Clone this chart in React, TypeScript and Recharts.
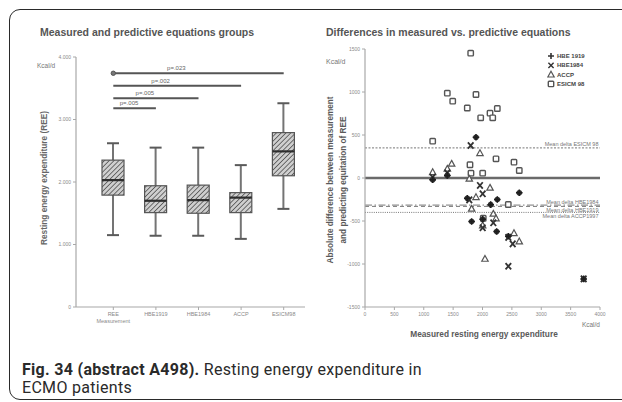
import {
  Bar,
  ComposedChart,
  Legend,
  ReferenceDot,
  ReferenceLine,
  Scatter,
  ScatterChart,
  XAxis,
  YAxis,
} from 'recharts';

// left panel: box plots per group (kcal/d)
const GROUPS = ['REE Measurement', 'HBE1919', 'HBE1984', 'ACCP', 'ESICM98'];
const WHISKER_LOW = [1150, 1140, 1140, 1090, 1570];
const QUARTILE_1 = [1790, 1510, 1500, 1510, 2100];
const MEDIAN = [2030, 1700, 1710, 1750, 2490];
const QUARTILE_3 = [2350, 1940, 1950, 1830, 2790];
const WHISKER_HIGH = [2620, 2550, 2550, 2270, 3260];
const REE_TICKS = [0, 1000, 2000, 3000, 4000];

// significance brackets, all starting at the measured group
const SIG_TARGETS = ['ESICM98', 'ACCP', 'HBE1984', 'HBE1919'];
const SIG_HEIGHTS = [3740, 3540, 3340, 3180];
const SIG_LABELS = ['p=.023', 'p=.002', 'p=.005', 'p=.005'];

// right panel: [measured REE, delta] per equation
const HBE1919_POINTS: [number, number][] = [
  [1152, -20], [1401, 30], [1889, 474], [1741, -235], [2252, -250], [2139, -310],
  [2626, -172], [1815, -506], [2241, -622], [2440, -677], [2003, -480], [3722, -1173],
];
const HBE1984_POINTS: [number, number][] = [
  [1152, 10], [1401, 60], [1799, 378], [1957, -87], [2003, -184], [1775, -254],
  [2184, -521], [2003, -579], [2514, -766], [2440, -690], [2440, -1026], [3722, -1173],
];
const ACCP_POINTS: [number, number][] = [
  [1152, 68], [1401, 107], [1475, 165], [1957, 289], [1775, -9], [2128, -114],
  [1889, -223], [1815, -358], [2184, -416], [2003, -552], [2536, -642], [2626, -738],
  [2042, -940], [2230, -470],
];
const ESICM_POINTS: [number, number][] = [
  [1799, 1451], [1401, 986], [1493, 893], [1889, 971], [1741, 814], [1969, 700],
  [2128, 754], [2252, 808], [2174, 700], [1152, 428], [2230, 223], [2536, 184],
  [2626, 87], [1787, 154], [1804, 56], [2003, 56], [2439, -308], [2013, -468],
];
const DELTA_TICKS = [-1500, -1000, -500, 0, 500, 1000, 1500];
const MEASURED_TICKS = [0, 500, 1000, 1500, 2000, 2500, 3000, 3500, 4000];
const MEAN_DELTA_NAMES = ['Mean delta ESICM 98', 'Mean delta HBE1984', 'Mean delta HBE1919', 'Mean delta ACCP1997'];
const MEAN_DELTA_VALUES = [350, -315, -330, -400];

const FONT = '"Liberation Sans", Arial, sans-serif';
const AXIS_GREY = '#a8a8a8';
const TEXT_GREY = '#8a8a8a';

const boxData = GROUPS.map((group, i) => ({
  group,
  range: [WHISKER_LOW[i], WHISKER_HIGH[i]],
  low: WHISKER_LOW[i],
  q1: QUARTILE_1[i],
  median: MEDIAN[i],
  q3: QUARTILE_3[i],
  high: WHISKER_HIGH[i],
}));

const toXY = (pts: [number, number][]) => pts.map(([x, y]) => ({ x, y }));

const BoxShape = (props: any) => {
  const { x, y, width, height, payload } = props;
  const { low, q1, median, q3, high } = payload;
  const top = Math.min(y, y + height);
  const h = Math.abs(height);
  const toY = (v: number) => top + ((high - v) / (high - low)) * h;
  const cx = x + width / 2;
  return (
    <g>
      <line x1={cx} x2={cx} y1={toY(high)} y2={toY(low)} stroke="#747474" strokeWidth={2} />
      <line x1={cx - 6} x2={cx + 6} y1={toY(high)} y2={toY(high)} stroke="#5a5a5a" strokeWidth={2} />
      <line x1={cx - 6} x2={cx + 6} y1={toY(low)} y2={toY(low)} stroke="#5a5a5a" strokeWidth={2} />
      <rect
        x={x}
        y={toY(q3)}
        width={width}
        height={toY(q1) - toY(q3)}
        fill="url(#reeHatch)"
        stroke="#555"
        strokeWidth={1.2}
      />
      <line x1={x} x2={x + width} y1={toY(median)} y2={toY(median)} stroke="#2e2e2e" strokeWidth={2.2} />
    </g>
  );
};

const GroupTick = ({ x, y, payload }: any) => {
  const lines = payload.value === 'REE Measurement' ? ['REE', 'Measurement'] : [payload.value];
  return (
    <text x={x} y={y + 4} textAnchor="middle" fontSize={5.5} fill={TEXT_GREY} fontFamily={FONT}>
      {lines.map((l, i) => (
        <tspan key={i} x={x} dy={i === 0 ? 0 : 7}>
          {l}
        </tspan>
      ))}
    </text>
  );
};

const PLabel = ({ viewBox, text }: any) => {
  if (!viewBox) return null;
  const w = viewBox.width ?? 0;
  return (
    <text x={viewBox.x + w * 0.37} y={viewBox.y - 3} textAnchor="middle" fontSize={6} fill="#666" fontFamily={FONT}>
      {text}
    </text>
  );
};

const LeftYTitle = ({ viewBox }: any) => {
  const cy = viewBox.y + viewBox.height / 2 - 4;
  const x = 45;
  return (
    <g fontFamily={FONT}>
      <text x={37} y={68} fontSize={6.5} fill="#777">
        Kcal/d
      </text>
      <text
        x={x}
        y={cy}
        transform={`rotate(-90 ${x} ${cy})`}
        textAnchor="middle"
        dominantBaseline="middle"
        fontSize={8.3}
        fontWeight="bold"
        fill="#666"
      >
        Resting energy expenditure (REE)
      </text>
    </g>
  );
};

const RightYTitle = ({ viewBox }: any) => {
  const cy = viewBox.y + viewBox.height / 2 + 2;
  return (
    <g fontFamily={FONT} fontWeight="bold" fontSize={8.2} fill="#5a5a5a">
      <text x={15} y={64} fontSize={7} fontWeight="normal" fill="#777">
        Kcal/d
      </text>
      <text x={20} y={cy} transform={`rotate(-90 20 ${cy})`} textAnchor="middle" dominantBaseline="middle">
        Absolute difference between measurement
      </text>
      <text x={33} y={cy} transform={`rotate(-90 33 ${cy})`} textAnchor="middle" dominantBaseline="middle">
        and predicting equitation of REE
      </text>
    </g>
  );
};

const RightXTitle = () => (
  <g fontFamily={FONT}>
    <text x={289} y={327} textAnchor="end" fontSize={6.5} fill="#777">
      Kcal/d
    </text>
    <text x={173} y={337} textAnchor="middle" fontSize={8.3} fontWeight="bold" fill="#5a5a5a">
      Measured resting energy expenditure
    </text>
  </g>
);

const PlusMark = ({ cx, cy }: any) => (
  <g>
    <circle cx={cx} cy={cy} r={2.8} fill="#2f2f2f" />
    <path d={`M${cx - 3.3},${cy}H${cx + 3.3}M${cx},${cy - 3.3}V${cy + 3.3}`} stroke="#1e1e1e" strokeWidth={1.5} />
  </g>
);

const CrossMark = ({ cx, cy }: any) => (
  <path
    d={`M${cx - 2.8},${cy - 3.2}L${cx + 2.8},${cy + 3.2}M${cx + 2.8},${cy - 3.2}L${cx - 2.8},${cy + 3.2}`}
    stroke="#333"
    strokeWidth={1.8}
  />
);

const TriangleMark = ({ cx, cy }: any) => (
  <path
    d={`M${cx},${cy - 3.4}L${cx + 3.2},${cy + 2.4}L${cx - 3.2},${cy + 2.4}Z`}
    fill="#fff"
    stroke="#555"
    strokeWidth={1.2}
  />
);

const SquareMark = ({ cx, cy }: any) => (
  <rect x={cx - 2.7} y={cy - 2.7} width={5.4} height={5.4} rx={0.8} fill="#fff" stroke="#555" strokeWidth={1.4} />
);

function CrossOrPlus(kind: 'plus' | 'cross') {
  return ({ cx, cy }: any) =>
    kind === 'plus' ? (
      <path d={`M${cx - 3},${cy}H${cx + 3}M${cx},${cy - 3}V${cy + 3}`} stroke="#333" strokeWidth={1.6} />
    ) : (
      <path d={`M${cx - 2.6},${cy - 2.6}L${cx + 2.6},${cy + 2.6}M${cx + 2.6},${cy - 2.6}L${cx - 2.6},${cy + 2.6}`} stroke="#333" strokeWidth={1.4} />
    );
}

const LEGEND_ITEMS = [
  { label: 'HBE 1919', Mark: CrossOrPlus('plus') },
  { label: 'HBE1984', Mark: CrossOrPlus('cross') },
  { label: 'ACCP', Mark: TriangleMark },
  { label: 'ESICM 98', Mark: SquareMark },
];

const EquationLegend = () => (
  <svg width={60} height={40} style={{ display: 'block' }}>
    {LEGEND_ITEMS.map(({ label, Mark }, i) => (
      <g key={label}>
        <Mark cx={4} cy={5 + i * 9.3} />
        <text x={10} y={7 + i * 9.3} fontSize={6} fontWeight="bold" fill="#444" fontFamily={FONT}>
          {label}
        </text>
      </g>
    ))}
  </svg>
);

const MEAN_LINE_STYLES = [
  { dash: '2 1.5', pos: 'insideBottomRight' },
  { dash: '7 2.5 1.5 2.5', pos: 'insideBottomRight' },
  { dash: '4 3', pos: 'insideTopRight' },
  { dash: '1 1.2', pos: 'insideTopRight' },
];

const captionLine = {
  position: 'absolute' as const,
  left: 22,
  fontFamily: 'Roboto, sans-serif',
  fontSize: 16,
  letterSpacing: '0.3px',
  lineHeight: '18px',
  height: 18,
  color: '#2a2a2a',
  whiteSpace: 'nowrap' as const,
};

export default function App() {
  return (
    <div
      style={{
        position: 'absolute',
        left: 0,
        top: 0,
        width: 622,
        height: 402,
        overflow: 'hidden',
        background: '#fff',
        fontFamily: FONT,
      }}
    >
      <div
        style={{
          position: 'absolute',
          left: 9,
          top: 9,
          width: 660,
          height: 389,
          border: '1.5px solid #2a2a2a',
          borderRadius: 11,
        }}
      />
      <div style={{ position: 'absolute', left: 40, top: 26, fontSize: 10.5, fontWeight: 'bold', color: '#555', whiteSpace: 'nowrap' }}>
        Measured and predictive equations groups
      </div>
      <div style={{ position: 'absolute', left: 326, top: 26, fontSize: 10.5, fontWeight: 'bold', color: '#555', whiteSpace: 'nowrap' }}>
        Differences in measured vs. predictive equations
      </div>

      <div style={{ position: 'absolute', left: 0, top: 0 }}>
        <ComposedChart width={311} height={340} data={boxData} margin={{ top: 57, right: 6, bottom: 3, left: 36 }}>
          <defs>
            <pattern id="reeHatch" width={3.4} height={3.4} patternUnits="userSpaceOnUse" patternTransform="rotate(45)">
              <rect width={3.4} height={3.4} fill="#cfcfcf" />
              <line x1={0} y1={0} x2={0} y2={3.4} stroke="#4a4a4a" strokeWidth={1.5} />
            </pattern>
          </defs>
          <XAxis
            dataKey="group"
            height={30}
            padding={{ left: 16, right: 0 }}
            tick={<GroupTick />}
            tickSize={3}
            axisLine={{ stroke: AXIS_GREY, strokeWidth: 1.2 }}
            tickLine={{ stroke: AXIS_GREY }}
            interval={0}
          />
          <YAxis
            width={40}
            domain={[0, 4000]}
            ticks={REE_TICKS}
            tickFormatter={(v: number) => (v === 0 ? '0' : `${v / 1000}.000`)}
            tick={{ fontSize: 5, fill: TEXT_GREY, fontFamily: FONT }}
            tickSize={3}
            axisLine={{ stroke: AXIS_GREY, strokeWidth: 1.2 }}
            tickLine={{ stroke: AXIS_GREY }}
            label={<LeftYTitle />}
          />
          <Bar dataKey="range" barSize={22} shape={<BoxShape />} isAnimationActive={false} />
          {SIG_TARGETS.map((target, i) => (
            <ReferenceLine
              key={`sig-${i}`}
              segment={[
                { x: GROUPS[0], y: SIG_HEIGHTS[i] },
                { x: target, y: SIG_HEIGHTS[i] },
              ]}
              stroke="#555"
              strokeWidth={2}
              label={<PLabel text={SIG_LABELS[i]} />}
            />
          ))}
          <ReferenceDot x={GROUPS[0]} y={SIG_HEIGHTS[0]} r={2.2} fill="#777" stroke="#555" strokeWidth={1} />
        </ComposedChart>
      </div>

      <div style={{ position: 'absolute', left: 311, top: 0 }}>
        <ScatterChart width={311} height={340} margin={{ top: 49, right: 22, bottom: 3, left: 14 }}>
          <XAxis
            type="number"
            dataKey="x"
            domain={[0, 4000]}
            ticks={MEASURED_TICKS}
            height={30}
            tick={{ fontSize: 5, fill: TEXT_GREY, fontFamily: FONT }}
            tickSize={3}
            axisLine={{ stroke: AXIS_GREY, strokeWidth: 1.2 }}
            tickLine={{ stroke: AXIS_GREY }}
            label={<RightXTitle />}
          />
          <YAxis
            type="number"
            dataKey="y"
            width={40}
            domain={[-1500, 1500]}
            ticks={DELTA_TICKS}
            tick={{ fontSize: 5, fill: TEXT_GREY, fontFamily: FONT }}
            tickSize={3}
            axisLine={{ stroke: AXIS_GREY, strokeWidth: 1.2 }}
            tickLine={{ stroke: AXIS_GREY }}
            label={<RightYTitle />}
          />
          <ReferenceLine y={0} stroke="#6a6a6a" strokeWidth={2.5} />
          {MEAN_DELTA_VALUES.map((v, i) => (
            <ReferenceLine
              key={MEAN_DELTA_NAMES[i]}
              y={v}
              stroke="#777"
              strokeWidth={1}
              strokeDasharray={MEAN_LINE_STYLES[i].dash}
              label={{
                value: MEAN_DELTA_NAMES[i],
                position: MEAN_LINE_STYLES[i].pos as any,
                offset: 1.5,
                fontSize: 5.5,
                fill: '#777',
                fontFamily: FONT,
              }}
            />
          ))}
          <Scatter name="ESICM 98" data={toXY(ESICM_POINTS)} shape={<SquareMark />} isAnimationActive={false} />
          <Scatter name="ACCP" data={toXY(ACCP_POINTS)} shape={<TriangleMark />} isAnimationActive={false} />
          <Scatter name="HBE1984" data={toXY(HBE1984_POINTS)} shape={<CrossMark />} isAnimationActive={false} />
          <Scatter name="HBE 1919" data={toXY(HBE1919_POINTS)} shape={<PlusMark />} isAnimationActive={false} />
          <Legend
            layout="horizontal"
            verticalAlign="middle"
            align="center"
            wrapperStyle={{ top: 51, left: 236, width: 60, height: 40 }}
            content={<EquationLegend />}
          />
        </ScatterChart>
      </div>

      <div style={{ ...captionLine, top: 361 }}>
        <b>Fig. 34 (abstract A498).</b> Resting energy expenditure in
      </div>
      <div style={{ ...captionLine, top: 379 }}>ECMO patients</div>
    </div>
  );
}
